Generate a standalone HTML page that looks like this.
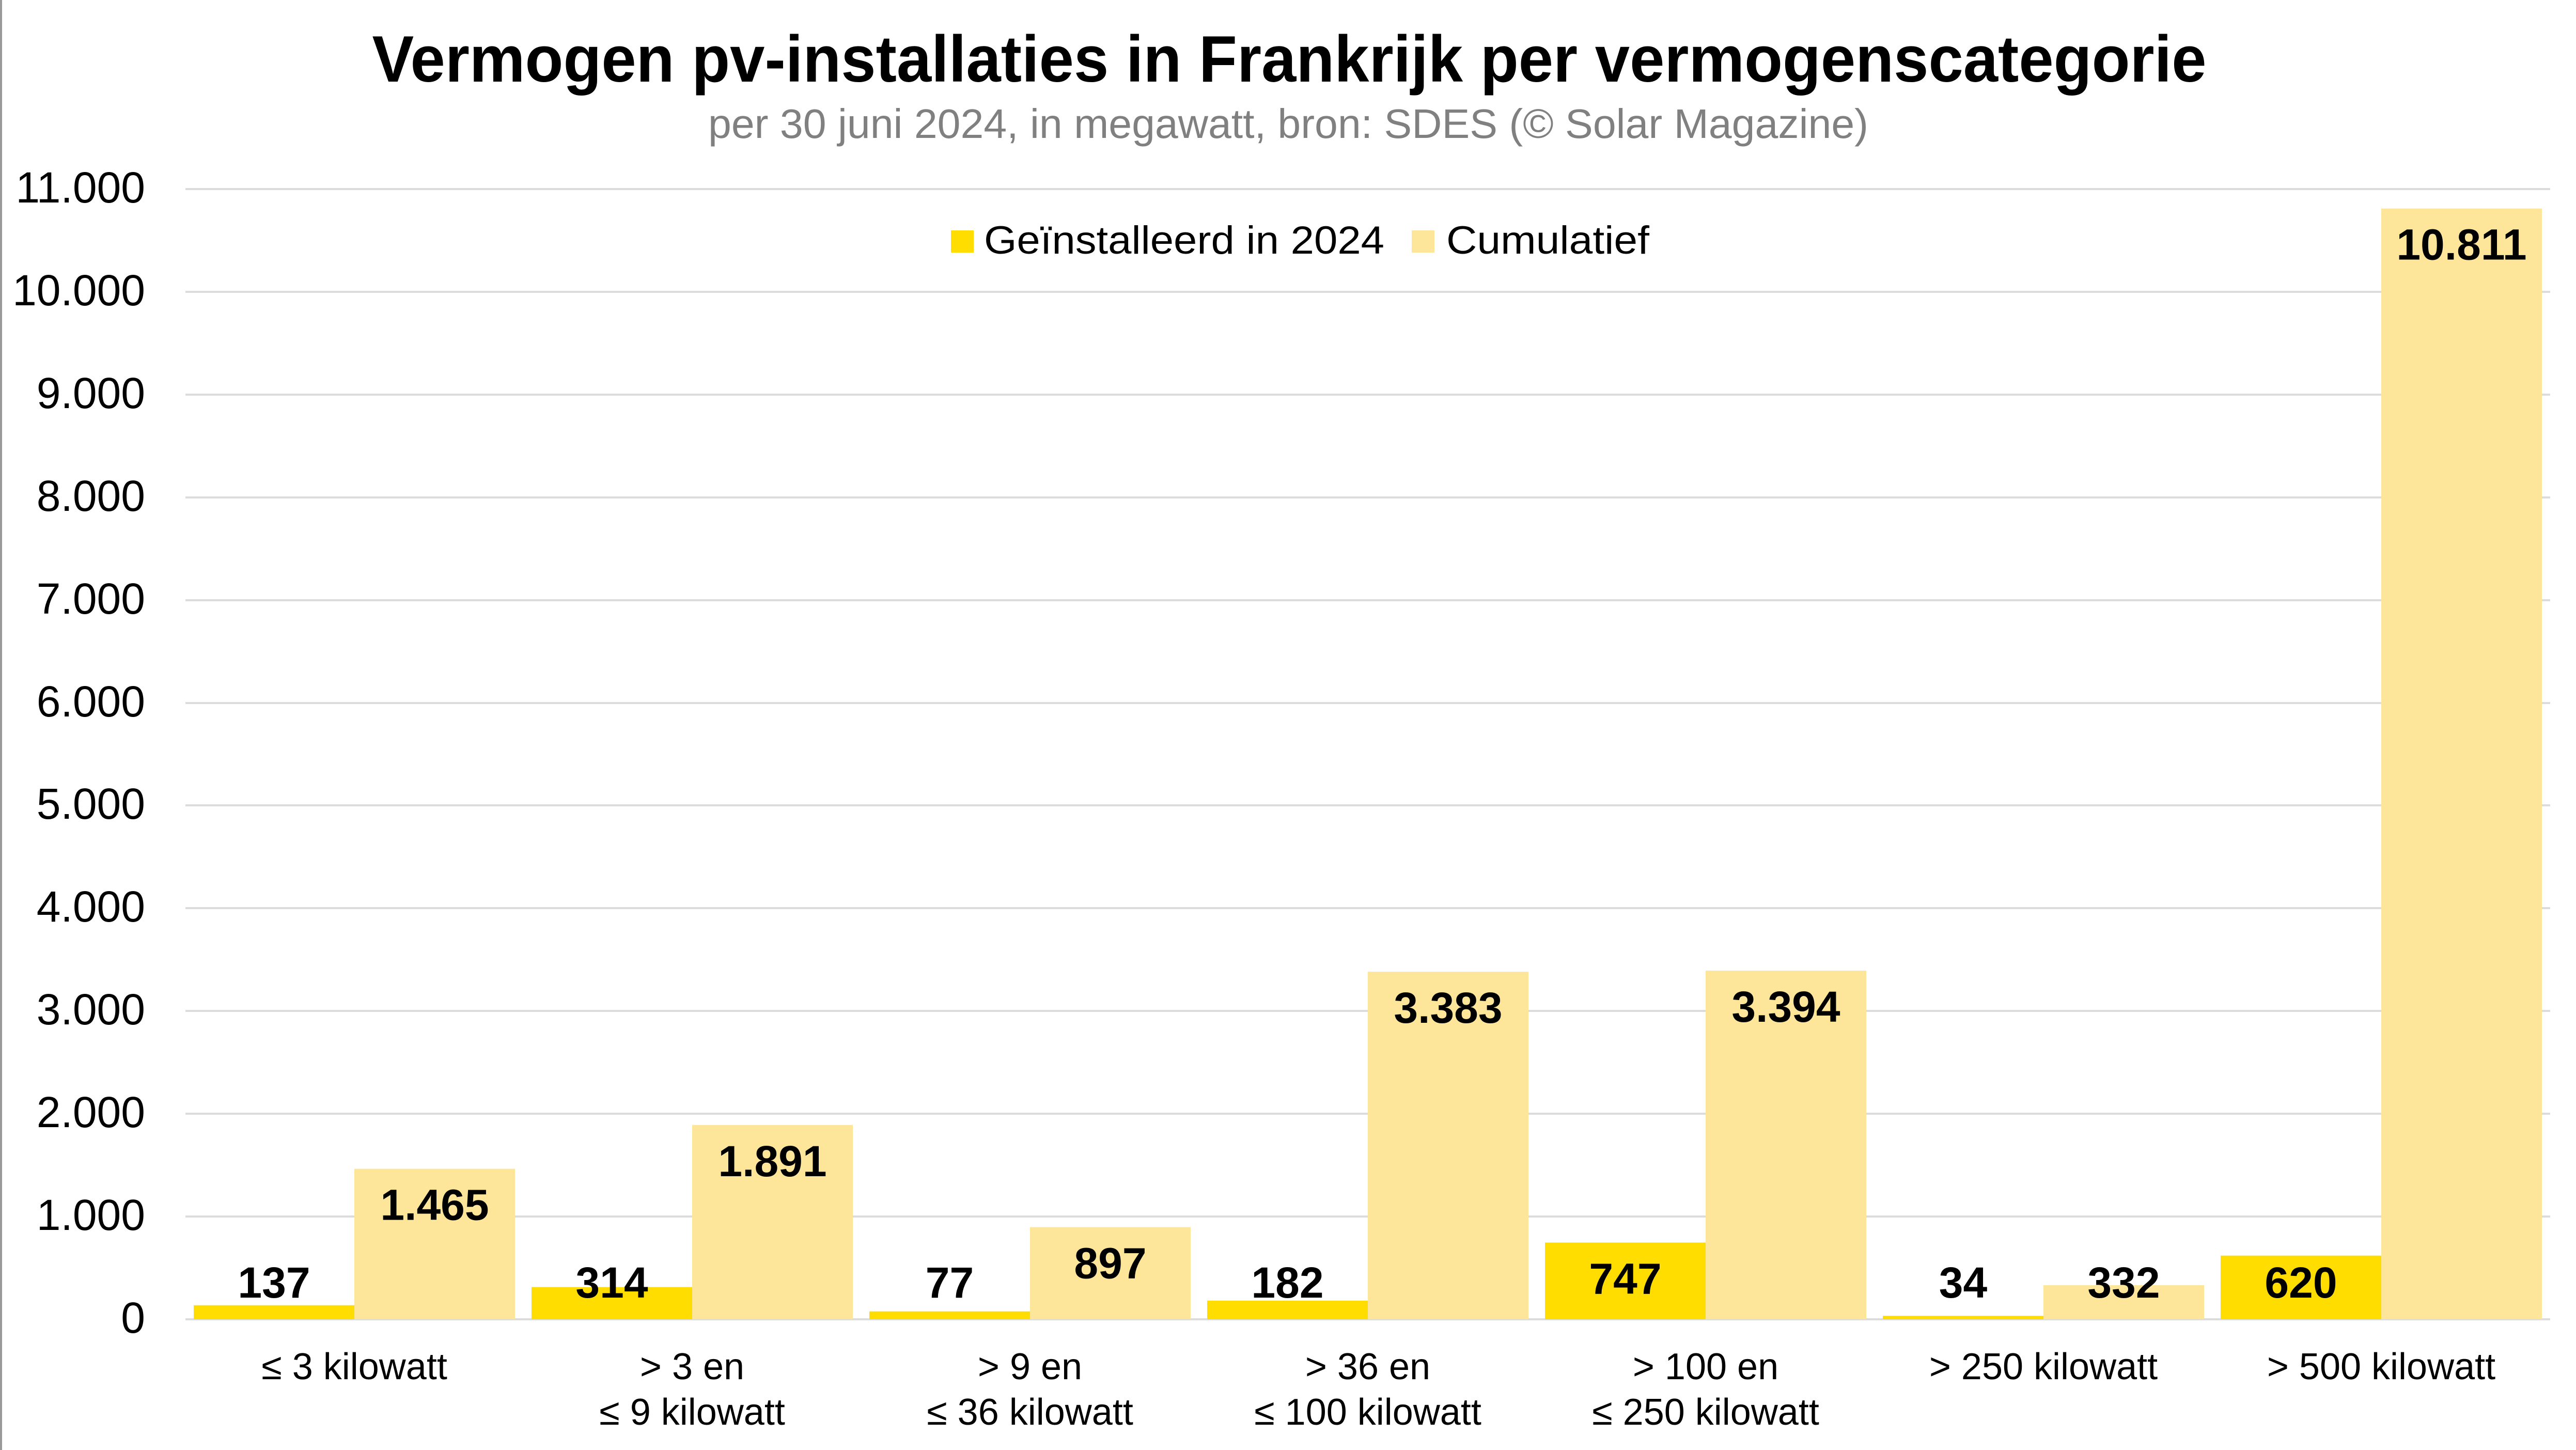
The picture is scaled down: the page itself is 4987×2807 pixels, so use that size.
<!DOCTYPE html>
<html><head><meta charset="utf-8"><style>
html,body{margin:0;padding:0;background:#fff;}
svg{display:block;font-family:"Liberation Sans",sans-serif;}
</style></head><body>
<svg width="4987" height="2807" viewBox="0 0 4987 2807" xmlns="http://www.w3.org/2000/svg">
<rect width="4987" height="2807" fill="#fff"/>
<line x1="2" y1="0" x2="2" y2="2807" stroke="#999" stroke-width="4"/>
<text x="2496" y="158" text-anchor="middle" font-size="127" font-weight="bold" textLength="3551" lengthAdjust="spacingAndGlyphs">Vermogen pv-installaties in Frankrijk per vermogenscategorie</text>
<text x="2494" y="267" text-anchor="middle" font-size="80" fill="#808080" textLength="2246" lengthAdjust="spacingAndGlyphs">per 30 juni 2024, in megawatt, bron: SDES (© Solar Magazine)</text>
<g stroke="#dcdcdc" stroke-width="4">
<line x1="359" x2="4937" y1="366" y2="366"/><line x1="359" x2="4937" y1="565" y2="565"/><line x1="359" x2="4937" y1="764" y2="764"/><line x1="359" x2="4937" y1="963" y2="963"/><line x1="359" x2="4937" y1="1162" y2="1162"/><line x1="359" x2="4937" y1="1361" y2="1361"/><line x1="359" x2="4937" y1="1559" y2="1559"/><line x1="359" x2="4937" y1="1758" y2="1758"/><line x1="359" x2="4937" y1="1957" y2="1957"/><line x1="359" x2="4937" y1="2156" y2="2156"/><line x1="359" x2="4937" y1="2355" y2="2355"/><line x1="359" x2="4937" y1="2554" y2="2554"/>
</g>
<g font-size="84" text-anchor="end">
<text x="281" y="392">11.000</text><text x="281" y="591">10.000</text><text x="281" y="790">9.000</text><text x="281" y="989">8.000</text><text x="281" y="1188">7.000</text><text x="281" y="1387">6.000</text><text x="281" y="1585">5.000</text><text x="281" y="1784">4.000</text><text x="281" y="1983">3.000</text><text x="281" y="2182">2.000</text><text x="281" y="2381">1.000</text><text x="281" y="2580">0</text>
</g>
<rect x="1841" y="446" width="44" height="43" fill="#FFDD00"/>
<text x="1905" y="491" font-size="76" textLength="775" lengthAdjust="spacingAndGlyphs">Geïnstalleerd in 2024</text>
<rect x="2733" y="446" width="44" height="43" fill="#FDE69A"/>
<text x="2800" y="491" font-size="76" textLength="393" lengthAdjust="spacingAndGlyphs">Cumulatief</text>
<g id="bars"></g>
<g font-size="72" text-anchor="middle" id="cats"></g>
<script>
var d=[[137,1465,"≤ 3 kilowatt",""],[314,1891,"> 3 en","≤ 9 kilowatt"],[77,897,"> 9 en","≤ 36 kilowatt"],[182,3383,"> 36 en","≤ 100 kilowatt"],[747,3394,"> 100 en","≤ 250 kilowatt"],[34,332,"> 250 kilowatt",""],[620,10811,"> 500 kilowatt",""]];
var ns="http://www.w3.org/2000/svg",b=document.getElementById("bars"),c=document.getElementById("cats");
function el(p,t,a,txt){var e=document.createElementNS(ns,t);for(var k in a)e.setAttribute(k,a[k]);if(txt)e.textContent=txt;p.appendChild(e);}
function fmt(v){return v>=1000?Math.floor(v/1000)+"."+String(v%1000).padStart(3,"0"):String(v);}
for(var i=0;i<7;i++){var g=359+i*654,x1=g+16,x2=x1+311;
[[d[i][0],x1,"#FFDD00"],[d[i][1],x2,"#FDE69A"]].forEach(function(s){var h=s[0]*0.1989,top=2554-h;
el(b,"rect",{x:s[1],y:top,width:311,height:h,fill:s[2]});
el(b,"text",{x:s[1]+155.5,y:Math.min(top+99,2512),"font-size":84,"font-weight":"bold","text-anchor":"middle"},fmt(s[0]));});
el(c,"text",{x:g+327,y:2670},d[i][2]);if(d[i][3])el(c,"text",{x:g+327,y:2758},d[i][3]);}
</script>
</svg>
</body></html>
